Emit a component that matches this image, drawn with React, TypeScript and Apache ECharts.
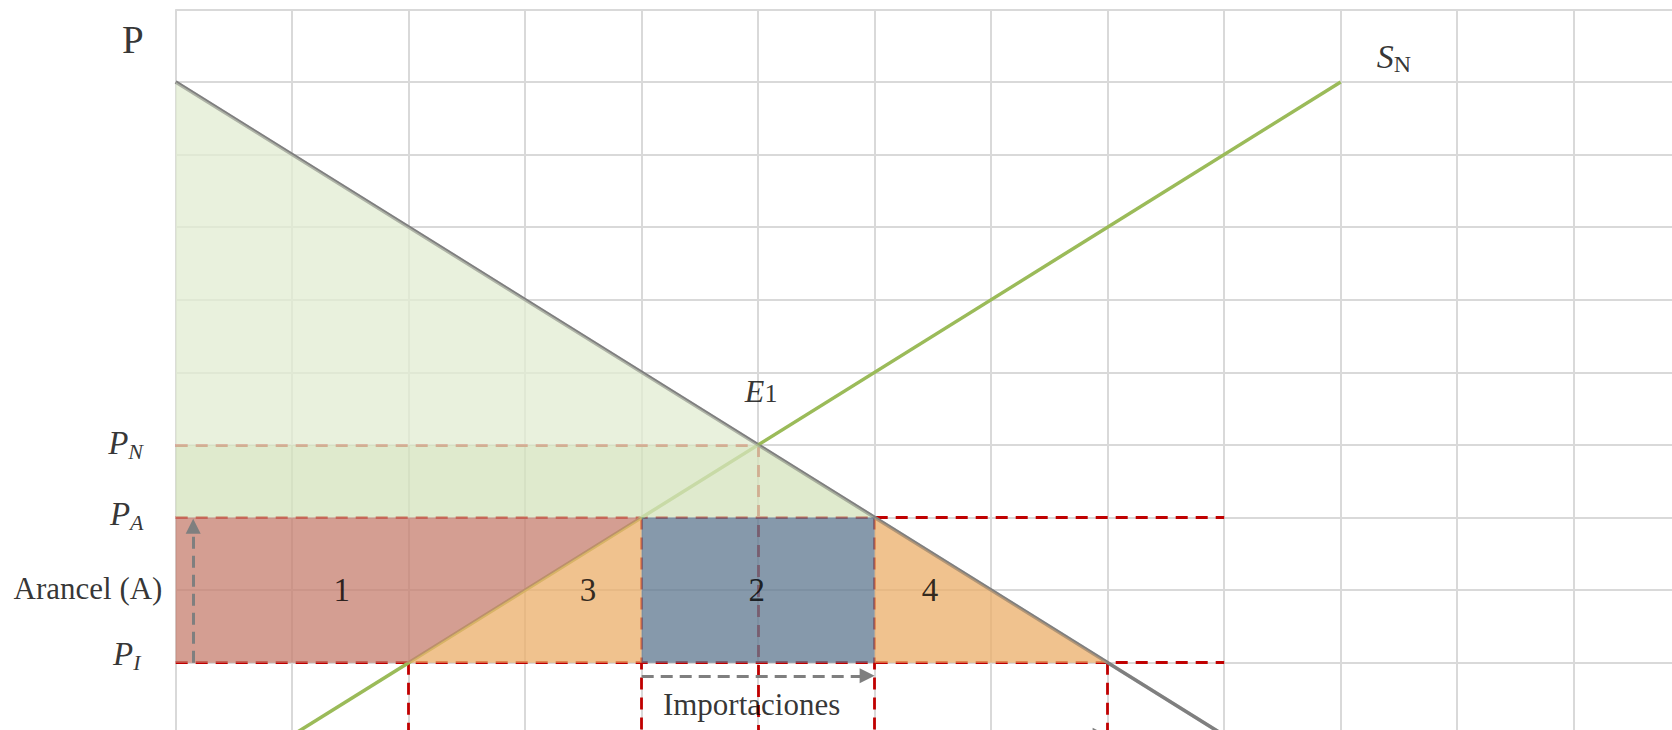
import React, { useEffect, useRef } from "react";
import * as echarts from "echarts";

// ---------- data (grid-cell units) ----------
const X_MAX = 13;
const Y_MAX = 10;

// demand  P = 9 - Q ; national supply  P = Q - 1
const demandCurve: number[][] = [[0, 9], [9, 0]];
const supplyCurve: number[][] = [[1, 0], [10, 9]];

// price levels
const priceN = 4; // P_N (autarky, E1)
const priceA = 3; // P_A (with tariff)
const priceI = 1; // P_I (international)

// quantities at the relevant prices
const qSupplyI = 2;
const qSupplyA = 4;
const qEquil = 5;
const qDemandA = 6;
const qDemandI = 8;
const qEnd = 9;

// horizontal dashed guides [xStart, y, xEnd]
const priceGuides: number[][] = [
  [0, priceN, qEquil],
  [0, priceA, qEnd],
  [0, priceI, qEnd],
];
// vertical dashed guides [x, yTop, yBottom]
const quantityGuides: number[][] = [
  [qSupplyI, priceI, 0],
  [qSupplyA, priceA, 0],
  [qEquil, priceN, 0],
  [qDemandA, priceA, 0],
  [qDemandI, priceI, 0],
];

// shaded areas
const surplusTop: number[][] = [[0, 9], [qEquil, priceN], [0, priceN]];
const surplusMid: number[][] = [[0, priceN], [qEquil, priceN], [qDemandA, priceA], [0, priceA]];
const area1: number[][] = [[0, priceA], [qSupplyA, priceA], [qSupplyI, priceI], [0, priceI]];
const area3: number[][] = [[qSupplyI, priceI], [qSupplyA, priceA], [qSupplyA, priceI]];
const area2: number[][] = [[qSupplyA, priceI], [qDemandA, priceI], [qDemandA, priceA], [qSupplyA, priceA]];
const area4: number[][] = [[qDemandA, priceA], [qDemandI, priceI], [qDemandA, priceI]];

// arrows (end point sits where the arrow head centre is)
const tariffArrow: number[][] = [[0.15, priceI], [0.15, 2.88]];
const importsArrow: number[][] = [[qSupplyA, 0.82], [5.935, 0.82]];
const consumptionArrow: number[][] = [[qSupplyI, 0], [7.935, 0]];

// ---------- styles ----------
const FONT = '"Liberation Serif", "Times New Roman", serif';
const GRID_COLOR = "#D9D9D9";
const DEMAND_COLOR = "#7F7F7F";
const SUPPLY_COLOR = "#9BBB59";
const GUIDE_COLOR = "#C00000";
const ARROW_COLOR = "#7F7F7F";

const areaStyles: { pts: number[][]; fill: string }[] = [
  { pts: surplusTop, fill: "rgba(226,237,211,0.77)" },
  { pts: surplusMid, fill: "rgba(213,228,190,0.77)" },
  { pts: area1, fill: "rgba(199,129,113,0.77)" },
  { pts: area3, fill: "rgba(236,176,108,0.77)" },
  { pts: area2, fill: "rgba(97,122,146,0.77)" },
  { pts: area4, fill: "rgba(236,176,108,0.77)" },
];

const RICH: any = {
  p: { fontFamily: FONT, fontStyle: "italic", fontSize: 33, lineHeight: 33, verticalAlign: "top", color: "#000" },
  ps: { fontFamily: FONT, fontStyle: "italic", fontSize: 22, lineHeight: 22, padding: [14, 0, 0, 0], verticalAlign: "top", color: "#000" },
  e: { fontFamily: FONT, fontStyle: "italic", fontSize: 32, lineHeight: 32, verticalAlign: "top", color: "#000" },
  es: { fontFamily: FONT, fontSize: 26, lineHeight: 26, padding: [6, 0, 0, 0], verticalAlign: "top", color: "#000" },
  s: { fontFamily: FONT, fontStyle: "italic", fontSize: 34, lineHeight: 34, verticalAlign: "top", color: "#000" },
  ss: { fontFamily: FONT, fontSize: 24, lineHeight: 24, padding: [12, 0, 0, 0], verticalAlign: "top", color: "#000" },
};

const textLabels: { at: number[]; text: string; size: number }[] = [
  { at: [-0.367, 9.584], text: "P", size: 39 },
  { at: [-0.43, 4.026], text: "{p|P}{ps|N}", size: 33 },
  { at: [-0.42, 3.052], text: "{p|P}{ps|A}", size: 33 },
  { at: [-0.42, 1.117], text: "{p|P}{ps|I}", size: 33 },
  { at: [-0.753, 2.02], text: "Arancel (A)", size: 31 },
  { at: [1.425, 2.0], text: "1", size: 33 },
  { at: [3.54, 2.0], text: "3", size: 33 },
  { at: [4.987, 2.0], text: "2", size: 33 },
  { at: [6.474, 2.0], text: "4", size: 33 },
  { at: [5.025, 4.749], text: "{e|E}{es|1}", size: 32 },
  { at: [10.457, 9.347], text: "{s|S}{ss|N}", size: 34 },
  { at: [4.943, 0.419], text: "Importaciones", size: 31 },
];

const axisCommon = {
  type: "value" as const,
  interval: 1,
  axisLine: { show: false },
  axisTick: { show: false },
  axisLabel: { show: false },
  splitLine: { show: true, lineStyle: { color: GRID_COLOR, width: 2 } },
};

export default function App() {
  const ref = useRef<HTMLDivElement>(null);

  useEffect(() => {
    if (!ref.current) return;
    const chart = echarts.init(ref.current, undefined, { renderer: "svg" });

    const option: any = {
      animation: false,
      backgroundColor: "#ffffff",
      grid: { left: 175.7, right: -18.2, top: 9.3, bottom: -5.3, containLabel: false, outerBoundsMode: "none" },
      xAxis: { ...axisCommon, min: 0, max: X_MAX },
      yAxis: { ...axisCommon, min: 0, max: Y_MAX },
      series: [
        {
          type: "lines",
          coordinateSystem: "cartesian2d",
          z: 2,
          silent: true,
          symbol: "none",
          lineStyle: { color: GUIDE_COLOR, width: 2.8, type: [12, 8], opacity: 1 },
          data: [
            ...priceGuides.map((g) => ({ coords: [[g[0], g[1]], [g[2], g[1]]] })),
            ...quantityGuides.map((g) => ({ coords: [[g[0], g[1]], [g[0], g[2]]] })),
          ],
        },
        {
          type: "line",
          z: 3,
          silent: true,
          showSymbol: false,
          data: demandCurve,
          lineStyle: { color: DEMAND_COLOR, width: 3.5 },
        },
        {
          type: "line",
          z: 3,
          silent: true,
          showSymbol: false,
          data: supplyCurve,
          lineStyle: { color: SUPPLY_COLOR, width: 3.5 },
        },
        {
          type: "custom",
          coordinateSystem: "cartesian2d",
          z: 4,
          silent: true,
          clip: false,
          data: areaStyles.map((a, i) => [a.pts[0][0], a.pts[0][1], i]),
          renderItem: (params: any, api: any) => {
            const a = areaStyles[params.dataIndex];
            return {
              type: "polygon",
              shape: { points: a.pts.map((p) => api.coord(p)) },
              style: { fill: a.fill, stroke: null },
            };
          },
        },
        {
          // demand edge showing through the shaded areas
          type: "line",
          z: 4.5,
          silent: true,
          showSymbol: false,
          data: demandCurve,
          lineStyle: { color: DEMAND_COLOR, width: 3.5, opacity: 0.4 },
        },
        {
          type: "lines",
          coordinateSystem: "cartesian2d",
          z: 5,
          silent: true,
          symbol: ["none", "triangle"],
          symbolSize: 15,
          lineStyle: { color: ARROW_COLOR, width: 3, type: [12, 7], opacity: 1 },
          data: [
            { coords: tariffArrow },
            { coords: importsArrow },
            { coords: consumptionArrow },
          ],
        },
        {
          type: "scatter",
          z: 6,
          silent: true,
          clip: false,
          symbolSize: 1,
          itemStyle: { color: "transparent" },
          data: textLabels.map((l) => ({
            value: l.at,
            label: {
              show: true,
              position: "inside",
              align: "center",
              verticalAlign: "middle",
              formatter: l.text,
              color: "#000",
              fontFamily: FONT,
              fontSize: l.size,
              rich: RICH,
            },
          })),
        },
      ],
    };

    chart.setOption(option);
    return () => chart.dispose();
  }, []);

  return (
    <div
      ref={ref}
      style={{ position: "fixed", left: 0, top: 0, width: 1672, height: 730, background: "#fff" }}
    />
  );
}
